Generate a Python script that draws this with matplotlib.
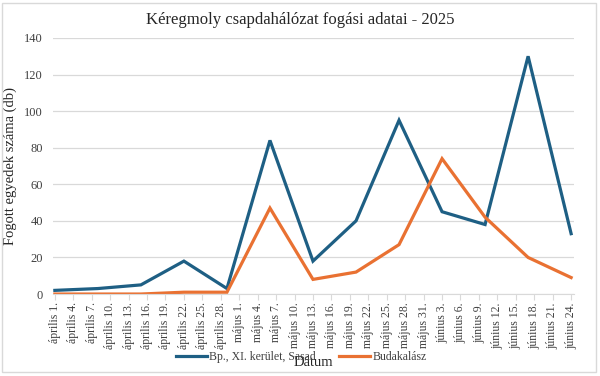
import matplotlib
matplotlib.use("Agg")
import matplotlib.pyplot as plt
import pandas as pd
from matplotlib.patches import Rectangle

# weekly catch data
dates = ["2025-04-01", "2025-04-08", "2025-04-15", "2025-04-22", "2025-04-29",
         "2025-05-06", "2025-05-13", "2025-05-20", "2025-05-27", "2025-06-03",
         "2025-06-10", "2025-06-17", "2025-06-24"]
sasad = [2, 3, 5, 18, 3, 84, 18, 40, 95, 45, 38, 130, 33]
budakalasz = [0, 0, 0, 1, 1, 47, 8, 12, 27, 74, 42, 20, 9]

tick_dates = ["2025-04-01", "2025-04-04", "2025-04-07", "2025-04-10", "2025-04-13",
              "2025-04-16", "2025-04-19", "2025-04-22", "2025-04-25", "2025-04-28",
              "2025-05-01", "2025-05-04", "2025-05-07", "2025-05-10", "2025-05-13",
              "2025-05-16", "2025-05-19", "2025-05-22", "2025-05-25", "2025-05-28",
              "2025-05-31", "2025-06-03", "2025-06-06", "2025-06-09", "2025-06-12",
              "2025-06-15", "2025-06-18", "2025-06-21", "2025-06-24"]
honapok = {4: "április", 5: "május", 6: "június"}

plt.rcParams['font.family'] = ['Liberation Serif', 'DejaVu Serif']

x = pd.to_datetime(dates)
xt = pd.to_datetime(tick_dates)
tick_labels = [f"{honapok[d.month]} {d.day}." for d in xt]

fig = plt.figure(figsize=(6, 3.76), dpi=100)
ax = fig.add_axes([0.088, 0.218, 0.869, 0.681])

ax.plot(x, sasad, color="#1E5F84", lw=2.3, label="Bp., XI. kerület, Sasad", solid_joinstyle="miter")
ax.plot(x, budakalasz, color="#E97132", lw=2.3, label="Budakalász", solid_joinstyle="miter")

ax.set_ylim(0, 140)
ax.set_yticks(range(0, 141, 20))
ax.set_xlim(x[0] - pd.Timedelta(hours=8), x[-1] + pd.Timedelta(hours=12))
ax.set_xticks(xt)
ax.set_xticklabels(tick_labels, rotation=90, fontsize=8.5, color="#404040")
ax.tick_params(axis="y", length=0, labelsize=9, labelcolor="#404040", pad=7)
ax.tick_params(axis="x", length=4, color="#d9d9d9", pad=2)

ax.grid(axis="y", color="#d9d9d9", lw=0.9)
ax.set_axisbelow(True)
for s in ["left", "right", "top"]:
    ax.spines[s].set_visible(False)
ax.spines["bottom"].set_color("#d9d9d9")

ax.set_ylabel("Fogott egyedek száma (db)", fontsize=10.5, color="#262626")
ax.yaxis.set_label_coords(-0.068, 0.5)
fig.text(0.522, 0.037, "Dátum", ha="center", va="center", fontsize=10.5, color="#262626")
fig.text(0.5, 0.947, "Kéregmoly csapdahálózat fogási adatai - 2025", ha="center", va="center",
         fontsize=12, color="#262626")

fig.legend(loc="center", bbox_to_anchor=(0.502, 0.05), ncol=2, frameon=False, fontsize=8.5,
           handlelength=2.6, handletextpad=0.2, columnspacing=2.0, labelcolor="#404040")

fig.patches.append(Rectangle((0.004, 0.011), 0.99, 0.982, transform=fig.transFigure,
                             fill=False, edgecolor="#d9d9d9", lw=1))

fig.savefig("out.png", dpi=100)
